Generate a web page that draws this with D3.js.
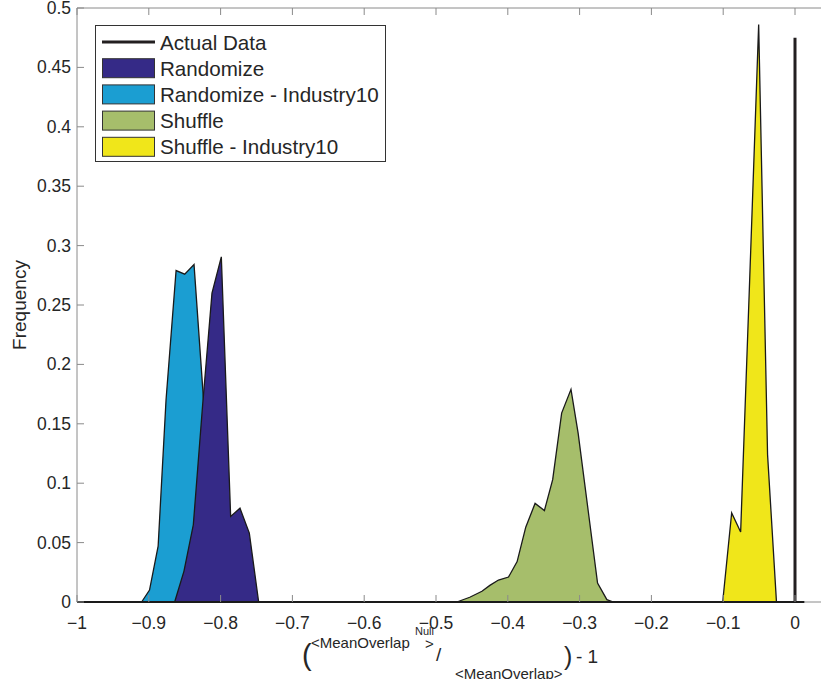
<!DOCTYPE html>
<html>
<head>
<meta charset="utf-8">
<script src="https://cdnjs.cloudflare.com/ajax/libs/d3/7.8.5/d3.min.js"></script>
<style>
  body { margin: 0; background: #fff; }
  text { font-family: "Liberation Sans", Arial, Helvetica, sans-serif; fill: #262626; }
</style>
</head>
<body>
<div id="content"></div>
<script>
// series (x = relative overlap, y = frequency)
var randX = [-0.864, -0.851, -0.838, -0.825, -0.812, -0.799, -0.786, -0.773, -0.760, -0.747];
var randY = [0, 0.026, 0.065, 0.166, 0.26, 0.2905, 0.072, 0.079, 0.058, 0];

var randIndX = [-0.910, -0.899, -0.887, -0.876, -0.862, -0.850, -0.837, -0.824, -0.811, -0.798];
var randIndY = [0, 0.01, 0.047, 0.17, 0.279, 0.276, 0.284, 0.172, 0.06, 0];

var shufX = [-0.471, -0.453, -0.436, -0.425, -0.413, -0.399, -0.387, -0.375, -0.362, -0.349, -0.3375, -0.325, -0.312, -0.302, -0.287, -0.275, -0.262, -0.253];
var shufY = [0, 0.004, 0.009, 0.014, 0.0185, 0.021, 0.034, 0.063, 0.083, 0.077, 0.103, 0.159, 0.179, 0.142, 0.072, 0.016, 0.002, 0];

var shufIndX = [-0.1007, -0.0882, -0.0757, -0.0632, -0.0506, -0.0382, -0.0258];
var shufIndY = [0, 0.075, 0.059, 0.27, 0.486, 0.124, 0];

var actualX = [0];
var actualY = [0.475];

var baseExtent = [-1, 0.013];

var xTicks = d3.range(-10, 1).map(function(d){ return d / 10; });
var yTicks = d3.range(0, 11).map(function(d){ return d * 0.05; });

var legendNames = ['Actual Data', 'Randomize', 'Randomize - Industry10', 'Shuffle', 'Shuffle - Industry10'];
var colors = ['#000000', '#352a87', '#1b9ed2', '#a6be6b', '#f0e61a'];

var width = 821, height = 679;

var xScale = d3.scaleLinear().domain([-1, 0.05]).range([77, 77 + 718 * 1.05]);
var yScale = d3.scaleLinear().domain([0, 0.5]).range([602, 8]);

var svg = d3.select('#content').append('svg')
    .attr('width', width)
    .attr('height', height);

var area = d3.area()
    .x(function(d){ return xScale(d[0]); })
    .y0(yScale(0))
    .y1(function(d){ return yScale(d[1]); });

function pairs(xs, ys){
    return xs.map(function(v, i){ return [v, ys[i]]; });
}

var series = [
    {x: randIndX, y: randIndY, c: colors[2]},
    {x: randX, y: randY, c: colors[1]},
    {x: shufX, y: shufY, c: colors[3]},
    {x: shufIndX, y: shufIndY, c: colors[4]}
];

// axis box (left + top visible, right is off screen)
svg.append('line')
    .attr('x1', xScale(-1)).attr('x2', xScale(-1))
    .attr('y1', yScale(0)).attr('y2', yScale(0.5))
    .style('stroke', '#8a8a8a').style('stroke-width', 1);
svg.append('line')
    .attr('x1', xScale(-1)).attr('x2', width)
    .attr('y1', yScale(0.5)).attr('y2', yScale(0.5))
    .style('stroke', '#8a8a8a').style('stroke-width', 1);
svg.append('line')
    .attr('x1', xScale(-1)).attr('x2', width)
    .attr('y1', yScale(0)).attr('y2', yScale(0))
    .style('stroke', '#8a8a8a').style('stroke-width', 1);

svg.selectAll('path.area').data(series)
    .enter().append('path')
        .attr('class', 'area')
        .attr('d', function(s){ return area(pairs(s.x, s.y)); })
        .style('fill', function(s){ return s.c; })
        .style('stroke', '#1a1a1a')
        .style('stroke-width', 1.3)
        .style('stroke-linejoin', 'miter');

svg.append('line')
    .attr('x1', xScale(baseExtent[0])).attr('x2', xScale(baseExtent[1]))
    .attr('y1', yScale(0)).attr('y2', yScale(0))
    .style('stroke', '#1a1a1a').style('stroke-width', 2);

svg.selectAll('line.actual').data(actualX)
    .enter().append('line')
        .attr('class', 'actual')
        .attr('x1', function(d){ return xScale(d); })
        .attr('x2', function(d){ return xScale(d); })
        .attr('y1', yScale(0))
        .attr('y2', function(d, i){ return yScale(actualY[i]); })
        .style('stroke', '#231f20')
        .style('stroke-width', 3);

// ticks
svg.selectAll('line.xtickTop').data(xTicks)
    .enter().append('line')
        .attr('x1', function(d){ return xScale(d); })
        .attr('x2', function(d){ return xScale(d); })
        .attr('y1', yScale(0.5)).attr('y2', yScale(0.5) + 7)
        .style('stroke', '#8a8a8a');
svg.selectAll('line.xtickBot').data(xTicks)
    .enter().append('line')
        .attr('x1', function(d){ return xScale(d); })
        .attr('x2', function(d){ return xScale(d); })
        .attr('y1', yScale(0)).attr('y2', yScale(0) - 7)
        .style('stroke', '#8a8a8a');
svg.selectAll('line.ytick').data(yTicks)
    .enter().append('line')
        .attr('x1', xScale(-1)).attr('x2', xScale(-1) + 7)
        .attr('y1', function(d){ return yScale(d); })
        .attr('y2', function(d){ return yScale(d); })
        .style('stroke', '#8a8a8a');

svg.selectAll('text.xlab').data(xTicks)
    .enter().append('text')
        .attr('x', function(d){ return xScale(d); })
        .attr('y', yScale(0) + 27)
        .attr('text-anchor', 'middle')
        .style('font-size', '17.5px')
        .text(function(d){ return d3.format('~g')(d); });

svg.selectAll('text.ylab').data(yTicks)
    .enter().append('text')
        .attr('x', xScale(-1) - 6)
        .attr('y', function(d){ return yScale(d) + 6; })
        .attr('text-anchor', 'end')
        .style('font-size', '17.5px')
        .text(function(d){ return d3.format('~g')(+d.toFixed(2)); });

svg.append('text')
    .attr('transform', 'translate(26,' + ((yScale(0) + yScale(0.5)) / 2) + ') rotate(-90)')
    .attr('text-anchor', 'middle')
    .style('font-size', '19px')
    .text('Frequency');

// x label: (<MeanOverlap^Null>/<MeanOverlap>) - 1
var xl = svg.append('g').attr('class', 'xlabel');
xl.append('text').attr('x', 302).attr('y', 665).style('font-size', '29px').text('(');
xl.append('text').attr('x', 311).attr('y', 648).style('font-size', '15px').text('<MeanOverlap');
xl.append('text').attr('x', 415).attr('y', 635).style('font-size', '11px').text('Null');
xl.append('text').attr('x', 425).attr('y', 649).style('font-size', '15px').text('>');
xl.append('text').attr('x', 436).attr('y', 661).style('font-size', '19px').text('/');
xl.append('text').attr('x', 455).attr('y', 679).style('font-size', '15px').text('<MeanOverlap>');
xl.append('text').attr('x', 564).attr('y', 665).style('font-size', '25px').text(')');
xl.append('text').attr('x', 576).attr('y', 663).style('font-size', '19px').text('- 1');

// legend
var legend = svg.append('g');
legend.append('rect')
    .attr('x', 95.5).attr('y', 25.5)
    .attr('width', 290).attr('height', 136)
    .style('fill', '#fff')
    .style('stroke', '#333')
    .style('stroke-width', 1);

var rows = legend.selectAll('g.row').data(legendNames)
    .enter().append('g')
        .attr('transform', function(d, i){ return 'translate(0,' + (42 + i * 26.2) + ')'; });

rows.each(function(d, i){
    var g = d3.select(this);
    if(i === 0){
        g.append('line')
            .attr('x1', 102).attr('x2', 155)
            .attr('y1', 0).attr('y2', 0)
            .style('stroke', '#231f20')
            .style('stroke-width', 3);
    } else {
        g.append('rect')
            .attr('x', 102.5).attr('y', -9.5)
            .attr('width', 52).attr('height', 19)
            .style('fill', colors[i])
            .style('stroke', '#333')
            .style('stroke-width', 1);
    }
    g.append('text')
        .attr('x', 160).attr('y', 7.5)
        .style('font-size', '20.6px')
        .text(d);
});
</script>
</body>
</html>
